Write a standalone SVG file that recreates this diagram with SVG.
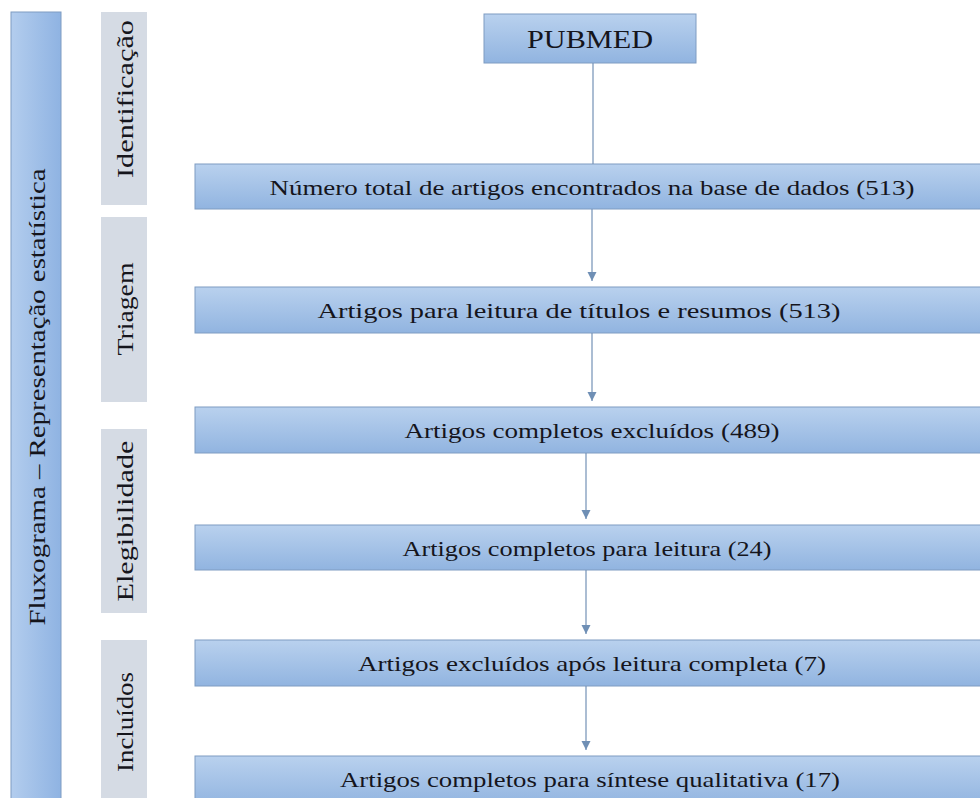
<svg xmlns="http://www.w3.org/2000/svg" width="980" height="798" viewBox="0 0 980 798">
  <defs>
    <linearGradient id="gBox" x1="0" y1="0" x2="0" y2="1">
      <stop offset="0" stop-color="#b9d1ee"/>
      <stop offset="1" stop-color="#91b4e0"/>
    </linearGradient>
    <linearGradient id="gBar" x1="0" y1="0" x2="1" y2="0">
      <stop offset="0" stop-color="#b3cdee"/>
      <stop offset="1" stop-color="#8fb3e2"/>
    </linearGradient>
    <marker id="arr" markerWidth="10" markerHeight="10" refX="9" refY="5" orient="auto" markerUnits="userSpaceOnUse" viewBox="0 0 10 10">
      <path d="M0,0.5 L9,5 L0,9.5 Z" fill="#6f8fb5"/>
    </marker>
  </defs>
  <style>
    .box { fill: url(#gBox); stroke: #7e9cc2; stroke-width: 1; }
    .bar { fill: url(#gBar); stroke: #7e9cc2; stroke-width: 1; }
    .phase { fill: #d5dbe4; }
    text { font-family: "Liberation Serif", "DejaVu Serif", "Noto Serif", "Times New Roman", serif; fill: #15151c; text-anchor: middle; dominant-baseline: central; }
    .main { font-size: 22px; }
    .ph { font-size: 23px; }
    .conn { stroke: #7391b6; stroke-width: 1.2; fill: none; }
  </style>
  <rect width="980" height="798" fill="#ffffff"/>

  <g id="bar-fluxograma">
    <rect class="bar" x="11" y="12" width="50" height="800"/>
    <text class="ph" font-size="24" textLength="457" lengthAdjust="spacingAndGlyphs" transform="translate(37 397) rotate(-90)">Fluxograma – Representação estatística</text>
  </g>

  <g id="phase-identificacao">
    <rect class="phase" x="101" y="12" width="46" height="193"/>
    <text class="ph" textLength="158" lengthAdjust="spacingAndGlyphs" transform="translate(125 99) rotate(-90)">Identificação</text>
  </g>
  <g id="phase-triagem">
    <rect class="phase" x="101" y="217" width="46" height="185"/>
    <text class="ph" textLength="93" lengthAdjust="spacingAndGlyphs" transform="translate(125 309) rotate(-90)">Triagem</text>
  </g>
  <g id="phase-elegibilidade">
    <rect class="phase" x="101" y="429" width="46" height="184"/>
    <text class="ph" textLength="161" lengthAdjust="spacingAndGlyphs" transform="translate(125 521) rotate(-90)">Elegibilidade</text>
  </g>
  <g id="phase-incluidos">
    <rect class="phase" x="101" y="640" width="46" height="170"/>
    <text class="ph" textLength="100" lengthAdjust="spacingAndGlyphs" transform="translate(125 722) rotate(-90)">Incluídos</text>
  </g>

  <g id="node-pubmed">
    <rect class="box" x="484" y="14" width="212" height="49"/>
    <text font-size="26" textLength="126" lengthAdjust="spacingAndGlyphs" x="590" y="39">PUBMED</text>
  </g>
  <g id="node-total">
    <rect class="box" x="195" y="164" width="800" height="45"/>
    <text class="main" textLength="645" lengthAdjust="spacingAndGlyphs" x="592" y="187">Número total de artigos encontrados na base de dados (513)</text>
  </g>
  <g id="node-titulos">
    <rect class="box" x="195" y="287" width="800" height="46"/>
    <text class="main" textLength="523" lengthAdjust="spacingAndGlyphs" x="579" y="310">Artigos para leitura de títulos e resumos (513)</text>
  </g>
  <g id="node-excluidos">
    <rect class="box" x="195" y="407" width="800" height="46"/>
    <text class="main" textLength="375" lengthAdjust="spacingAndGlyphs" x="592" y="430">Artigos completos excluídos (489)</text>
  </g>
  <g id="node-leitura">
    <rect class="box" x="195" y="525" width="800" height="45"/>
    <text class="main" textLength="369" lengthAdjust="spacingAndGlyphs" x="587" y="548">Artigos completos para leitura (24)</text>
  </g>
  <g id="node-excluidos-apos">
    <rect class="box" x="195" y="640" width="800" height="46"/>
    <text class="main" textLength="468" lengthAdjust="spacingAndGlyphs" x="592" y="663">Artigos excluídos após leitura completa (7)</text>
  </g>
  <g id="node-sintese">
    <rect class="box" x="195" y="756" width="800" height="50"/>
    <text class="main" textLength="500" lengthAdjust="spacingAndGlyphs" x="590" y="779">Artigos completos para síntese qualitativa (17)</text>
  </g>

  <g id="connectors">
    <line class="conn" x1="593" y1="63" x2="593" y2="164"/>
    <line class="conn" x1="592" y1="209" x2="592" y2="281" marker-end="url(#arr)"/>
    <line class="conn" x1="592" y1="333" x2="592" y2="401" marker-end="url(#arr)"/>
    <line class="conn" x1="586" y1="453" x2="586" y2="519" marker-end="url(#arr)"/>
    <line class="conn" x1="586" y1="570" x2="586" y2="634" marker-end="url(#arr)"/>
    <line class="conn" x1="586" y1="686" x2="586" y2="750" marker-end="url(#arr)"/>
  </g>
</svg>
